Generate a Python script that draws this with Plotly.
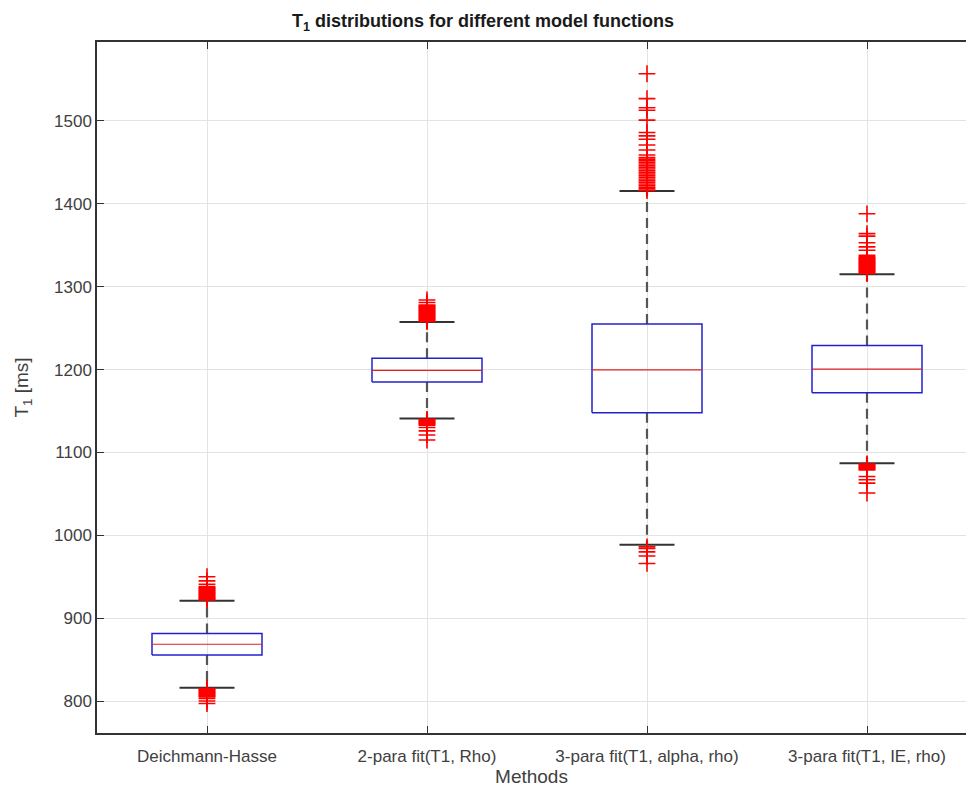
import plotly.graph_objects as go

categories = ["Deichmann-Hasse", "2-para fit(T1, Rho)", "3-para fit(T1, alpha, rho)", "3-para fit(T1, IE, rho)"]
q1 = [855.5, 1185, 1148, 1172]
median = [868.5, 1199, 1199.5, 1200.5]
q3 = [881.5, 1213.5, 1255, 1229]
lower_whisker = [816, 1141, 988.5, 1087]
upper_whisker = [921, 1257.5, 1415.5, 1315]

outliers_dh = [922, 923, 924, 925, 926, 927, 928, 929, 930, 931, 932, 933, 934, 935, 936, 937, 938, 941, 945, 950,
               815, 814, 813, 812, 811, 810, 809, 808, 807, 806, 805, 803, 800, 797]
outliers_2p = [1258, 1259, 1260, 1261, 1262, 1263, 1264, 1265, 1266, 1267, 1268, 1269, 1270, 1271, 1272, 1273, 1274,
               1275, 1276, 1277, 1278, 1281, 1284,
               1140, 1139, 1138, 1137, 1136, 1135, 1134, 1133, 1130, 1126, 1121, 1115]
outliers_3a = [1416, 1418, 1420, 1422, 1424, 1426, 1428, 1430, 1432, 1434, 1436, 1438, 1440, 1442, 1444, 1446, 1448,
               1450, 1452, 1454, 1456, 1459, 1465, 1471, 1478, 1482, 1486, 1501, 1513, 1516, 1527, 1557,
               986, 984, 980, 975, 966]
outliers_ie = [1316, 1317, 1318, 1319, 1320, 1321, 1322, 1323, 1324, 1325, 1326, 1327, 1328, 1329, 1330, 1331, 1332,
               1333, 1334, 1335, 1336, 1338, 1344, 1348, 1353, 1361, 1364, 1388,
               1086, 1085, 1084, 1083, 1082, 1081, 1080, 1079, 1071, 1067, 1063, 1051]
outliers = [outliers_dh, outliers_2p, outliers_3a, outliers_ie]

y_ticks = [800, 900, 1000, 1100, 1200, 1300, 1400, 1500]

BOX_HW = 0.25
CAP_HW = 0.125

fig = go.Figure()
for i, cat in enumerate(categories):
    p = i + 1
    # whiskers (dashed)
    fig.add_trace(go.Scatter(x=[p, p], y=[q3[i], upper_whisker[i]], mode="lines",
                             line=dict(color="#555555", width=2.2, dash="10px,6px"), hoverinfo="skip"))
    fig.add_trace(go.Scatter(x=[p, p], y=[q1[i], lower_whisker[i]], mode="lines",
                             line=dict(color="#555555", width=2.2, dash="10px,6px"), hoverinfo="skip"))
    # caps
    for w in (upper_whisker[i], lower_whisker[i]):
        fig.add_trace(go.Scatter(x=[p - CAP_HW, p + CAP_HW], y=[w, w], mode="lines",
                                 line=dict(color="#333333", width=2), hoverinfo="skip"))
    # box
    fig.add_trace(go.Scatter(x=[p - BOX_HW, p + BOX_HW, p + BOX_HW, p - BOX_HW, p - BOX_HW],
                             y=[q1[i], q1[i], q3[i], q3[i], q1[i]], mode="lines",
                             line=dict(color="#2222cc", width=1.5), hoverinfo="skip"))
    # median
    fig.add_trace(go.Scatter(x=[p - BOX_HW, p + BOX_HW], y=[median[i], median[i]], mode="lines",
                             line=dict(color="#dd2222", width=1.2), hoverinfo="skip"))
    # outliers
    fig.add_trace(go.Scatter(x=[p] * len(outliers[i]), y=outliers[i], mode="markers",
                             marker=dict(symbol="cross-thin-open", size=12, color="#ff0000",
                                         line=dict(color="#ff0000", width=1.6)), hoverinfo="skip"))

axis_font = dict(family="Liberation Sans, Arial, sans-serif", size=17, color="#404040")
fig.update_layout(
    width=966, height=789,
    margin=dict(l=97, r=0, t=42, b=56),
    paper_bgcolor="white", plot_bgcolor="white",
    showlegend=False,
    title=dict(text="<b>T<sub>1</sub> distributions for different model functions</b>",
               x=0.5, xanchor="center", y=0.974, yanchor="middle",
               font=dict(family="Liberation Sans, Arial, sans-serif", size=18, color="#1a1a1a")),
    xaxis=dict(range=[0.5, 4.45], tickvals=[1, 2, 3, 4], ticktext=categories,
               showgrid=True, gridcolor="#e3e3e3", gridwidth=1, zeroline=False,
               showline=True, linecolor="#333333", linewidth=1.5, mirror="ticks",
               ticks="inside", ticklen=7, tickcolor="#333333", tickfont=axis_font,
               ticklabelstandoff=7,
               title=dict(text="Methods", font=dict(axis_font, size=19), standoff=2)),
    yaxis=dict(range=[761.4, 1595.3], tickvals=y_ticks,
               showgrid=True, gridcolor="#e3e3e3", gridwidth=1, zeroline=False,
               showline=True, linecolor="#333333", linewidth=1.5, mirror=False,
               ticks="inside", ticklen=7, tickcolor="#333333", tickfont=axis_font,
               title=dict(text="T<sub>1</sub> [ms]", font=dict(axis_font, size=19), standoff=20)),
)

fig.write_html("out.html")
